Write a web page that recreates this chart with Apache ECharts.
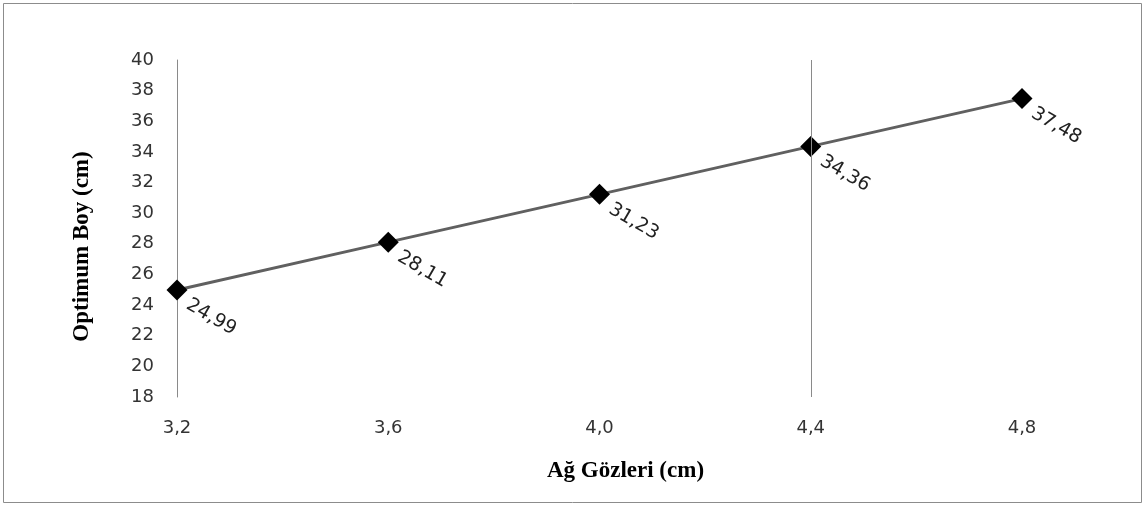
<!DOCTYPE html>
<html>
<head>
<meta charset="utf-8">
<script src="https://cdn.jsdelivr.net/npm/echarts@6/dist/echarts.min.js"></script>
<style>
html,body{margin:0;padding:0;background:#fff;}
#chart{width:1145px;height:506px;}
</style>
</head>
<body>
<div id="chart"></div>
<script>
const categories = ['3,2', '3,6', '4,0', '4,4', '4,8'];
const values = [24.99, 28.11, 31.23, 34.36, 37.48];
const yTicks = { min: 18, max: 40, interval: 2 };
const xTitle = 'Ağ Gözleri (cm)';
const yTitle = 'Optimum Boy (cm)';
const markedCategory = '4,4';

const chart = echarts.init(document.getElementById('chart'), null, { renderer: 'canvas' });
const numFont = 'DejaVu Sans';
chart.setOption({
  animation: false,
  backgroundColor: '#ffffff',
  graphic: [{
    type: 'rect',
    shape: { x: 3.5, y: 3.5, width: 1138, height: 499 },
    style: { fill: 'none', stroke: '#8c8c8c', lineWidth: 1 },
    silent: true
  }],
  grid: { left: 177, right: 123, top: 60, bottom: 109 },
  xAxis: {
    type: 'category',
    data: categories,
    boundaryGap: false,
    axisLine: { show: false },
    axisTick: { show: false },
    splitLine: { show: false },
    axisLabel: { margin: 22, color: '#333', fontFamily: numFont, fontSize: 18 },
    name: xTitle,
    nameLocation: 'middle',
    nameGap: 63,
    nameTextStyle: { fontFamily: 'Liberation Serif', fontWeight: 'bold', fontSize: 23, color: '#000', padding: [0, 0, 0, 52] }
  },
  yAxis: {
    type: 'value',
    min: yTicks.min,
    max: yTicks.max,
    interval: yTicks.interval,
    axisLine: { show: true, lineStyle: { color: '#8a8a8a', width: 1 } },
    axisTick: { show: false },
    splitLine: { show: false },
    axisLabel: { margin: 23, color: '#333', fontFamily: numFont, fontSize: 18 },
    name: yTitle,
    nameLocation: 'middle',
    nameGap: 83,
    nameTextStyle: { fontFamily: 'Liberation Serif', fontWeight: 'bold', fontSize: 23, color: '#000', padding: [0, 36, 0, 0] }
  },
  series: [{
    type: 'line',
    data: values,
    symbol: 'diamond',
    symbolSize: 21,
    lineStyle: { color: '#606060', width: 3 },
    itemStyle: { color: '#000' },
    z: 3,
    label: {
      show: true,
      position: 'inside',
      align: 'left',
      verticalAlign: 'top',
      rotate: -30,
      offset: [16, -3],
      color: '#222',
      fontFamily: numFont,
      fontSize: 19,
      formatter: p => p.value.toFixed(2).replace('.', ',')
    },
    markLine: {
      silent: true,
      symbol: 'none',
      label: { show: false },
      lineStyle: { color: '#8a8a8a', width: 1, type: 'solid' },
      data: [{ xAxis: markedCategory }]
    }
  }]
});
</script>
</body>
</html>
